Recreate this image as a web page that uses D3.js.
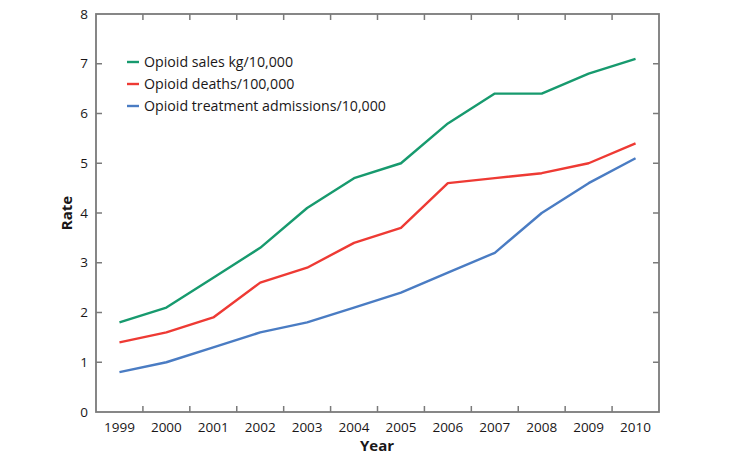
<!DOCTYPE html>
<html><head><meta charset="utf-8">
<script src="https://cdn.jsdelivr.net/npm/d3@7"></script>
<style>body{margin:0;background:#fff}svg{display:block}text{font-family:"Open Sans",sans-serif;fill:#1a1718}</style>
</head><body><svg id="c" width="736" height="460"></svg>
<script>
const years = ["1999","2000","2001","2002","2003","2004","2005","2006","2007","2008","2009","2010"];
const sales = [1.8,2.1,2.7,3.3,4.1,4.7,5.0,5.8,6.4,6.4,6.8,7.1];
const deaths = [1.4,1.6,1.9,2.6,2.9,3.4,3.7,4.6,4.7,4.8,5.0,5.4];
const treatment = [0.8,1.0,1.3,1.6,1.8,2.1,2.4,2.8,3.2,4.0,4.6,5.1];
const seriesNames = ["Opioid sales kg/10,000","Opioid deaths/100,000","Opioid treatment admissions/10,000"];
const seriesColors = ["#179a6e","#ee3a34","#4a7cc3"];
const yTicks = [0,1,2,3,4,5,6,7,8];

const svg = d3.select("#c");
const L=96,R=659,T=14,B=412;
const x = d3.scaleBand().domain(years).range([L,R]);
const y = d3.scaleLinear().domain([0,8]).range([B,T]);
const frame="#7a7a7a";

const g = svg.append("g");
years.slice(1).forEach(yr=>{
  const xx = x(yr);
  g.append("line").attr("x1",xx).attr("x2",xx).attr("y1",B).attr("y2",B-6).attr("stroke",frame).attr("stroke-width",1.5);
  g.append("line").attr("x1",xx).attr("x2",xx).attr("y1",T).attr("y2",T+6).attr("stroke",frame).attr("stroke-width",1.5);
});
yTicks.slice(1,-1).forEach(v=>{
  g.append("line").attr("x1",L).attr("x2",L+6).attr("y1",y(v)).attr("y2",y(v)).attr("stroke",frame).attr("stroke-width",1.5);
  g.append("line").attr("x1",R).attr("x2",R-6).attr("y1",y(v)).attr("y2",y(v)).attr("stroke",frame).attr("stroke-width",1.5);
});
g.append("rect").attr("x",L).attr("y",T).attr("width",R-L).attr("height",B-T).attr("fill","none").attr("stroke",frame).attr("stroke-width",1.8);

yTicks.forEach(v=>{
  svg.append("text").attr("x",L-8).attr("y",y(v)).attr("dy","0.35em").attr("text-anchor","end").attr("font-size",13.5).text(v);
});
years.forEach(yr=>{
  svg.append("text").attr("x",x(yr)+x.bandwidth()/2).attr("y",B+20).attr("text-anchor","middle").attr("font-size",13.5).text(yr);
});
svg.append("text").attr("x",377).attr("y",451).attr("text-anchor","middle").attr("font-size",15).attr("font-weight","bold").text("Year");
svg.append("text").attr("transform","translate(72,213) rotate(-90)").attr("text-anchor","middle").attr("font-size",15).attr("font-weight","bold").text("Rate");

const line = d3.line().x((d,i)=>x(years[i])+x.bandwidth()/2).y(d=>y(d));
[sales,deaths,treatment].forEach((s,i)=>{
  svg.append("path").attr("d",line(s)).attr("fill","none").attr("stroke",seriesColors[i]).attr("stroke-width",2.4).attr("stroke-linejoin","round");
});

seriesNames.forEach((n,i)=>{
  const yy = 62 + i*22;
  svg.append("line").attr("x1",127).attr("x2",139).attr("y1",yy).attr("y2",yy).attr("stroke",seriesColors[i]).attr("stroke-width",2.4);
  svg.append("text").attr("x",144).attr("y",yy).attr("dy","0.35em").attr("font-size",14.2).text(n);
});
</script></body></html>
